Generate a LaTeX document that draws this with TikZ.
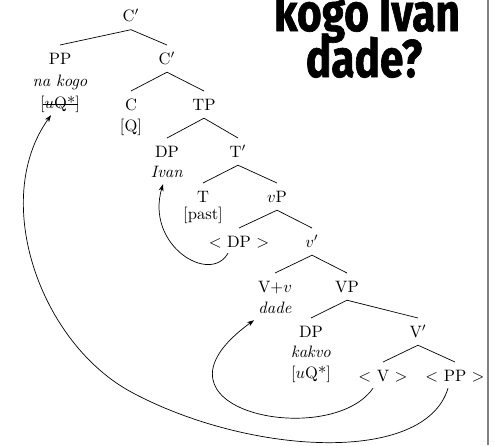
\documentclass[tikz,border=0pt]{standalone}
\usepackage{fontspec}
\usetikzlibrary{arrows.meta,calc}
\newfontfamily\titlefont{Fira Sans}[FakeStretch=0.8,BoldFeatures={FakeBold=1.2}]
\newcommand\treefont{\fontsize{10}{12}\selectfont}
\newcommand\tx[1]{\scalebox{1.65}{#1}}
\begin{document}
\begin{tikzpicture}[x=1pt,y=-1pt,
  tn/.style={anchor=base,inner xsep=1pt,inner ysep=0pt,text height=11.3pt,text depth=0pt,font=\treefont},
  lab/.style={anchor=base,inner sep=0pt,text depth=0pt,font=\treefont},
  br/.style={line width=0.7pt},
  mv/.style={line width=0.7pt,-{Stealth[length=7pt,width=5pt]}},
  ttl/.style={anchor=base,inner sep=0pt,font=\titlefont\bfseries\fontsize{53}{53}\selectfont}]
\useasboundingbox (0,0) rectangle (495,445);
% title (top line cut off)
\node[ttl] (title1) at (367,31) {kogo Ivan};
\node[ttl] (title2) at (364,77) {dade?};
% frame line
\coordinate (ft) at (488,0);
\coordinate (fb) at (488,445);
\draw[gray,line width=2pt] (ft) -- (fb);
% tree nodes
\node[tn] (cp1) at (131,21.5) {\tx{C$'$}};
\node[tn] (pp) at (60,64) {\tx{PP}};
\node[lab] (nakogo) at (60,86) {\tx{\textit{na kogo}}};
\node[lab] (ppf) at (60,108) {\tx{[$u$Q*]}};
\draw[line width=1pt] ($(ppf.south)+(-17,-4)$) -- ($(ppf.south)+(18,-4)$);
\node[tn] (cp2) at (167,64) {\tx{C$'$}};
\node[tn] (c) at (131,110) {\tx{C}};
\node[lab] (cf) at (131,131) {\tx{[Q]}};
\node[tn] (tp) at (204,110) {\tx{TP}};
\node[tn] (dp1) at (167,157) {\tx{DP}};
\node[lab] (ivan) at (167,177) {\tx{\textit{Ivan}}};
\node[tn] (tb) at (238,157) {\tx{T$'$}};
\node[tn] (t) at (203,202) {\tx{T}};
\node[lab] (past) at (203,219) {\tx{[past]}};
\node[tn] (vp) at (277,202) {\tx{$v$P}};
\node[tn] (dpt) at (239,247) {\tx{$<$ DP $>$}};
\node[tn] (vb) at (312,247) {\tx{$v'$}};
\node[tn] (vv) at (275,292) {\tx{V+$v$}};
\node[lab] (dade) at (275,313) {\tx{\textit{dade}}};
\node[tn] (vpp) at (347,292) {\tx{VP}};
\node[tn] (dp2) at (311,337) {\tx{DP}};
\node[lab] (kakvo) at (311,357) {\tx{\textit{kakvo}}};
\node[lab] (dpf) at (311,378) {\tx{[$u$Q*]}};
\node[tn] (vbar) at (418,337) {\tx{V$'$}};
\node[tn] (vt) at (383,381) {\tx{$<$ V $>$}};
\node[tn] (ppt) at (455,381) {\tx{$<$ PP $>$}};
% branches
\foreach \p/\c in {cp1/pp,cp1/cp2,cp2/c,cp2/tp,tp/dp1,tp/tb,tb/t,tb/vp,vp/dpt,vp/vb,vb/vv,vb/vpp,vpp/dp2,vpp/vbar,vbar/vt,vbar/ppt}
  \draw[br] ([yshift=-8pt]\p.south) -- ([yshift=7.5pt]\c.north);
% movement arrows
\draw[mv] ($(dpt.south)+(-11,6)$) .. controls ($(dpt.south)+(-29,38)$) and ($(ivan.south)+(-22,68)$) .. ($(ivan.south)+(-4,7)$);
\draw[mv] ($(vt.south)+(-10,7)$) .. controls ($(vt.south)+(-53,69)$) and ($(dade.south)+(-145,97)$) .. ($(dade.south)+(-21,7)$);
\coordinate (bend) at (133,393);
\draw[mv] ($(ppt.south)+(-7,7)$) .. controls (425,465) and (250,455) .. (bend) .. controls (40,344) and (-10,200) .. ($(ppf.south)+(-9,7)$);
\end{tikzpicture}
\end{document}
